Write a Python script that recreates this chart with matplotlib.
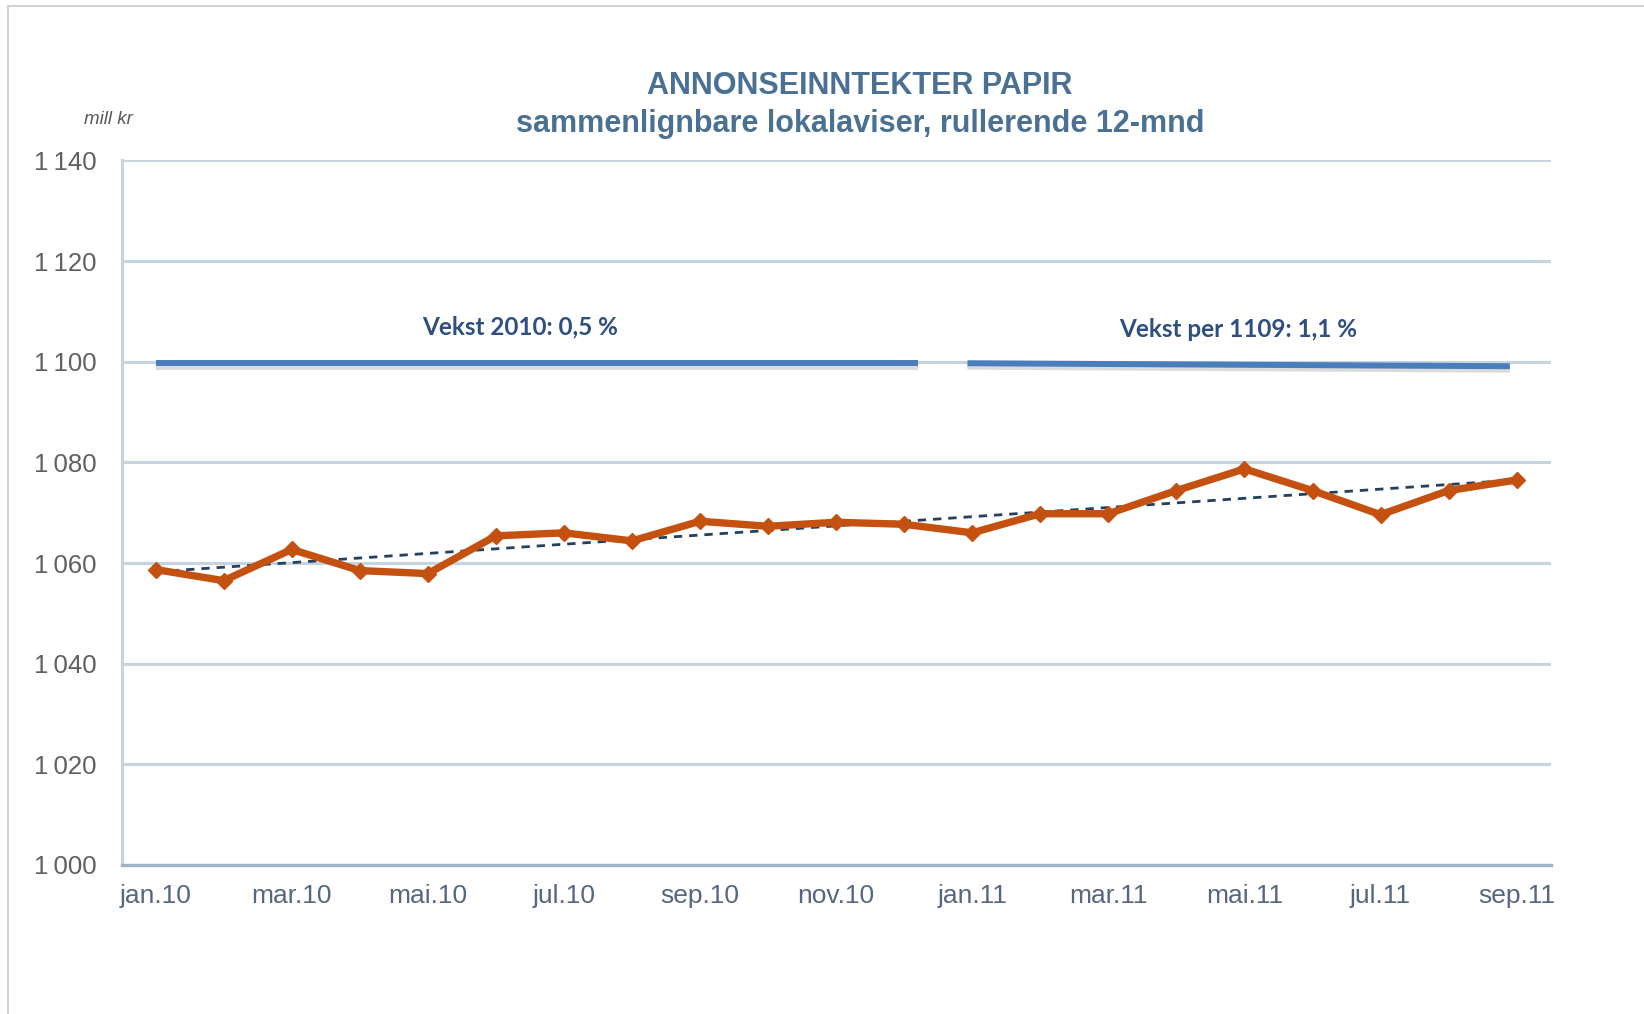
import numpy as np
import matplotlib
matplotlib.use("Agg")
import matplotlib.pyplot as plt
import matplotlib.patheffects as pe
from matplotlib.patches import Rectangle

months = ["jan.10", "feb.10", "mar.10", "apr.10", "mai.10", "jun.10", "jul.10",
          "aug.10", "sep.10", "okt.10", "nov.10", "des.10", "jan.11", "feb.11",
          "mar.11", "apr.11", "mai.11", "jun.11", "jul.11", "aug.11", "sep.11"]
revenue = [1058.7, 1056.5, 1062.7, 1058.5, 1057.9, 1065.4, 1066.0, 1064.4, 1068.3,
           1067.3, 1068.1, 1067.7, 1066.0, 1069.8, 1069.8, 1074.4, 1078.7, 1074.4,
           1069.6, 1074.4, 1076.5]
yticks = [1000, 1020, 1040, 1060, 1080, 1100, 1120, 1140]

growth_labels = ["Vekst 2010: 0,5 %", "Vekst per 1109: 1,1 %"]

W, H = 1644, 1014
fig = plt.figure(figsize=(W / 100, H / 100), dpi=100)
ax = fig.add_axes([121.6 / W, 1 - 865 / H, (1550.7 - 121.6) / W, (865 - 160.4) / H])

x = np.arange(len(months))

# gridlines
grid_col = "#c6d4df"
ax.set_ylim(1000, 1140)
ax.set_xlim(-0.5, 20.5)
ax.set_yticks(yticks)
ax.yaxis.grid(True, color=grid_col, lw=2.2)
ax.set_axisbelow(True)
for s in ["top", "right"]:
    ax.spines[s].set_visible(False)
ax.spines["left"].set_color(grid_col)
ax.spines["left"].set_linewidth(2.2)
ax.spines["bottom"].set_color("#9db3c6")
ax.spines["bottom"].set_linewidth(2.4)

# trend line
k, m = np.polyfit(x, revenue, 1)
ax.plot(x, k * x + m, color="#243f60", lw=2, ls=(0, (3, 2.5)), zorder=4)

# the series
ax.plot(x, revenue, color="#c4510f", lw=5.3, marker="D", ms=8.5,
        solid_joinstyle="miter", zorder=5)

# growth bars
bar_col = "#4a7dbb"
shadow = [pe.SimpleLineShadow(offset=(0, -2.5), shadow_color="#8a8a8a", alpha=0.3),
          pe.Normal()]
ax.plot([0, 11.2], [1099.7, 1099.7], color=bar_col, lw=4.3,
        solid_capstyle="butt", path_effects=shadow, zorder=3)
ax.plot([11.93, 19.9], [1099.7, 1099.1], color=bar_col, lw=4.3,
        solid_capstyle="butt", path_effects=shadow, zorder=3)

txt_col = "#2e4f80"
ax.text(5.35, 1106.9, growth_labels[0], ha="center", va="center",
        fontsize=17.5, fontweight="bold", color=txt_col, family=["Lato", "DejaVu Sans"])
ax.text(15.9, 1106.5, growth_labels[1], ha="center", va="center",
        fontsize=17.5, fontweight="bold", color=txt_col, family=["Lato", "DejaVu Sans"])

# ticks
sans = ["Liberation Sans", "DejaVu Sans"]
ax.set_yticklabels(["{:,}".format(v).replace(",", "\u2009") for v in yticks],
                   family=sans, fontsize=18.5, color="#606060")
ax.set_xticks(x[::2])
ax.set_xticklabels(months[::2], family=sans, fontsize=19, color="#56677f")
ax.tick_params(axis="both", length=0)
ax.tick_params(axis="y", pad=18)
ax.tick_params(axis="x", pad=14)

# titles
title_col = "#4a7194"
fig.text(860 / W, 1 - 86.5 / H, "ANNONSEINNTEKTER PAPIR", ha="center", va="center",
         fontsize=22, fontweight="bold", color=title_col, family=sans)
fig.text(860 / W, 1 - 124 / H, "sammenlignbare lokalaviser, rullerende 12-mnd",
         ha="center", va="center", fontsize=22, fontweight="bold", color=title_col,
         family=sans)
fig.text(108 / W, 1 - 119 / H, "mill kr", ha="center", va="center", fontsize=13.5,
         style="italic", color="#595959", family=sans)

# outer frame
fig.patches.append(Rectangle((8.4 / W, -0.1), 1.2, 1 - 5.7 / H + 0.1,
                             transform=fig.transFigure, fill=False,
                             edgecolor="#c8c8c8", lw=1.2))

fig.savefig("out.png", dpi=100, facecolor="white")
